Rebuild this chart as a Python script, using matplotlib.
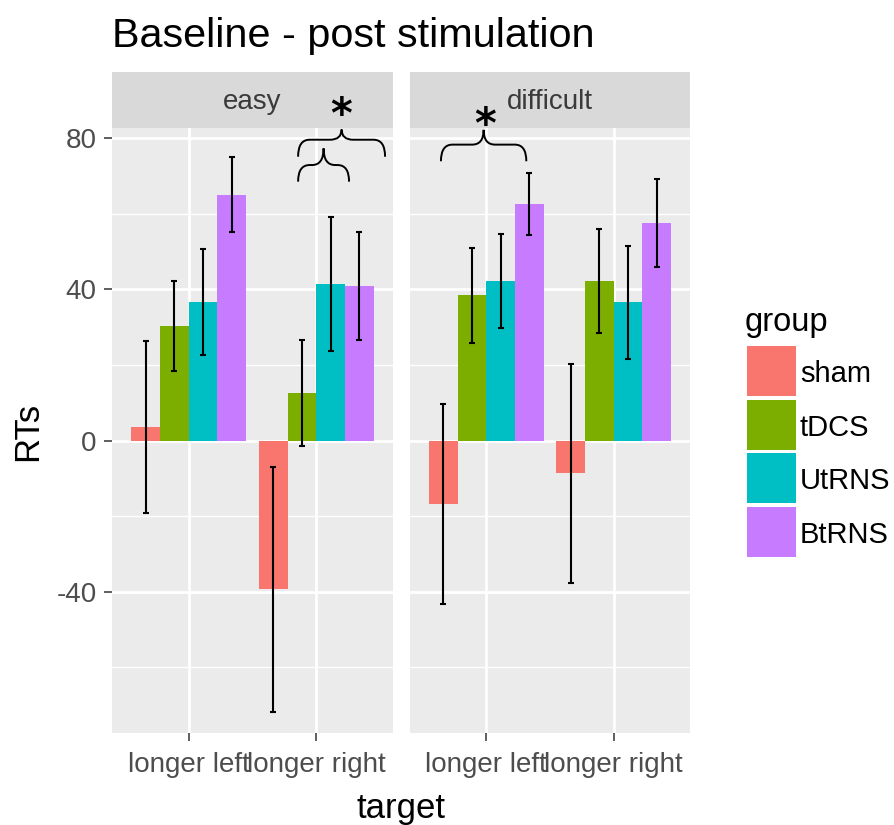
import numpy as np
import matplotlib
matplotlib.use("Agg")
import matplotlib.pyplot as plt
from matplotlib.patches import Rectangle, PathPatch
from matplotlib.path import Path

plt.rcParams['font.family'] = ['Liberation Sans', 'DejaVu Sans']
plt.rcParams['axes.unicode_minus'] = False

# ---------------- data ----------------
groups = ['sham', 'tDCS', 'UtRNS', 'BtRNS']
colors = ['#F8766D', '#7CAE00', '#00BFC4', '#C77CFF']
targets = ['longer left', 'longer right']
panels = ['easy', 'difficult']

easy_left_mean = [3.6, 30.3, 36.7, 65.1]
easy_left_err = [22.7, 11.9, 14.0, 10.0]
easy_right_mean = [-39.4, 12.6, 41.5, 40.8]
easy_right_err = [32.4, 14.0, 17.7, 14.3]
diff_left_mean = [-16.8, 38.4, 42.2, 62.7]
diff_left_err = [26.5, 12.5, 12.5, 8.2]
diff_right_mean = [-8.7, 42.2, 36.6, 57.6]
diff_right_err = [29.0, 13.8, 15.0, 11.7]

y_ticks = [-40, 0, 40, 80]

# significance braces: (panel, x_start, x_end, y, end drop, tip rise)
braces = [
    ('easy', 1.857, 2.538, 79.6, 4.5, 2.7),
    ('easy', 1.857, 2.256, 72.9, 4.4, 4.4),
    ('difficult', 0.643, 1.314, 78.3, 4.4, 3.9),
]
# asterisks: (panel, x, y)
stars = [('easy', 2.19, 86.0), ('difficult', 0.99, 83.2)]

# ---------------- figure ----------------
W, H = 894, 825
fig = plt.figure(figsize=(W / 100, H / 100), dpi=100)

def fx(px):
    return px / W

def fy(py):
    return 1 - py / H

panel_px = {'easy': (112, 393), 'difficult': (410, 690)}
top_px, bot_px, strip_top_px = 128, 733, 72
ylim = (-77.4, 82.7)

means = {'easy': [easy_left_mean, easy_right_mean],
         'difficult': [diff_left_mean, diff_right_mean]}
errs = {'easy': [easy_left_err, easy_right_err],
        'difficult': [diff_left_err, diff_right_err]}

# strips first so panel annotations can draw on top
for p in panels:
    x0, x1 = panel_px[p]
    sax = fig.add_axes([fx(x0), fy(top_px), fx(x1 - x0), (top_px - strip_top_px) / H])
    sax.set_facecolor('#D9D9D9')
    sax.set_xticks([]); sax.set_yticks([])
    for s in sax.spines.values():
        s.set_visible(False)
    sax.text(0.5, 0.47, p, ha='center', va='center', fontsize=20, color='#3A3A3A',
             transform=sax.transAxes)

axes = {}
for p in panels:
    x0, x1 = panel_px[p]
    ax = fig.add_axes([fx(x0), fy(bot_px), fx(x1 - x0), (bot_px - top_px) / H])
    axes[p] = ax
    ax.set_facecolor('#EBEBEB')
    for s in ax.spines.values():
        s.set_visible(False)
    ax.set_xlim(0.4, 2.6)
    ax.set_ylim(*ylim)
    ax.set_yticks(y_ticks)
    ax.set_yticks([-60, -20, 20, 60], minor=True)
    ax.set_xticks([1, 2])
    ax.set_xticklabels(targets)
    ax.grid(True, which='major', color='white', linewidth=2.0)
    ax.grid(True, which='minor', axis='y', color='white', linewidth=1.0)
    ax.set_axisbelow(True)
    ax.tick_params(axis='both', which='major', labelsize=20, labelcolor='#4D4D4D',
                   color='#333333', length=6, width=1.1)
    ax.tick_params(axis='x', which='major', pad=8)
    ax.tick_params(axis='y', which='major', pad=5)
    ax.tick_params(axis='y', which='minor', length=0)
    if p != 'easy':
        ax.tick_params(axis='y', which='major', left=False, labelleft=False)

    xs = np.arange(len(targets)) + 1
    bw = 0.9 / len(groups)
    for gi, g in enumerate(groups):
        off = (gi - (len(groups) - 1) / 2) * bw
        m = [means[p][ti][gi] for ti in range(len(targets))]
        e = [errs[p][ti][gi] for ti in range(len(targets))]
        ax.bar(xs + off, m, width=bw, color=colors[gi], zorder=2)
        ax.errorbar(xs + off, m, yerr=e, fmt='none', ecolor='black', elinewidth=1.5,
                    capsize=2.5, capthick=1.5, zorder=3)

# braces
def draw_brace(ax, x0, x1, y, drop, tip):
    xm = (x0 + x1) / 2
    rx = 0.09
    verts = [
        (x0, y - drop), (x0, y), (x0 + rx, y),
        (xm - rx, y),
        (xm, y), (xm, y + tip),
        (xm, y), (xm + rx, y),
        (x1 - rx, y),
        (x1, y), (x1, y - drop),
    ]
    codes = [Path.MOVETO, Path.CURVE3, Path.CURVE3,
             Path.LINETO,
             Path.CURVE3, Path.CURVE3,
             Path.CURVE3, Path.CURVE3,
             Path.LINETO,
             Path.CURVE3, Path.CURVE3]
    patch = PathPatch(Path(verts, codes), facecolor='none', edgecolor='black',
                      linewidth=1.4, clip_on=False, zorder=5)
    ax.add_patch(patch)

for p, x0, x1, y, d, t in braces:
    draw_brace(axes[p], x0, x1, y, d, t)
for p, x, y in stars:
    axes[p].text(x, y, '*', ha='center', va='center', fontsize=30, color='black',
                 family='DejaVu Sans', fontweight='bold', clip_on=False, zorder=6)

# titles
fig.text(fx(112), fy(47), 'Baseline - post stimulation', fontsize=29.8, color='black',
         ha='left', va='baseline')
fig.text(fx(28), fy(431), 'RTs', fontsize=25, rotation=90, ha='center', va='center',
         color='black')
fig.text(fx(401), fy(818), 'target', fontsize=25, ha='center', va='baseline',
         color='black')

# legend (drawn in figure pixel layout)
leg_x, key_top, key_w, key_h, key_pitch = 747, 346, 49, 50, 53.7
fig.text(fx(745), fy(331), 'group', fontsize=23.5, ha='left', va='baseline',
         color='black')
for gi, g in enumerate(groups):
    ytop = key_top + gi * key_pitch
    fig.add_artist(Rectangle((fx(leg_x), fy(ytop + key_h)), fx(key_w), key_h / H,
                             transform=fig.transFigure, facecolor=colors[gi],
                             edgecolor='none'))
    fig.text(fx(800), fy(ytop + key_h / 2 + 3), g, fontsize=21, ha='left',
             va='center', color='black')

fig.savefig('out.png', dpi=100, facecolor='white')
